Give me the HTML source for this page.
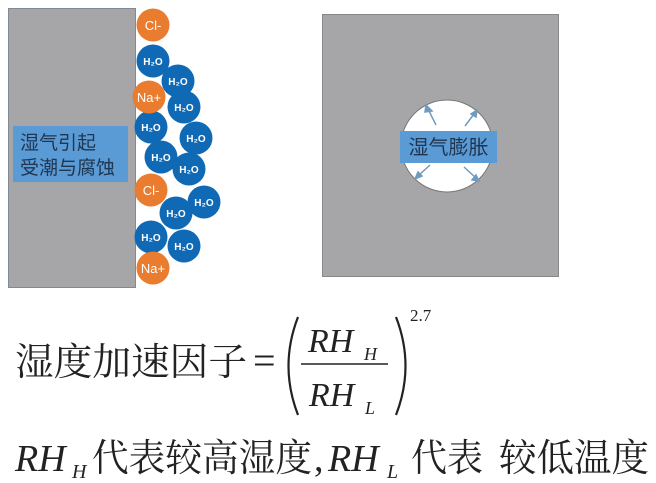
<!DOCTYPE html>
<html><head><meta charset="utf-8"><style>
html,body{margin:0;padding:0;background:#fff;}
svg{display:block;}
</style></head><body>
<svg width="656" height="483" viewBox="0 0 656 483" xmlns="http://www.w3.org/2000/svg">
<rect x="8.5" y="8.5" width="127" height="279" fill="#a6a6a8" stroke="#7f8a96" stroke-width="1"/>
<rect x="13" y="126" width="115" height="56" fill="#5b9bd5"/>
<g font-family="'Liberation Sans','Noto Sans CJK SC',sans-serif" font-size="19" fill="#1f3550">
<text x="20" y="149">湿气引起</text>
<text x="20" y="174">受潮与腐蚀</text>
</g>
<g font-family="'Liberation Sans',sans-serif" font-weight="bold" fill="#fff" text-anchor="middle">
<g font-size="10">
<circle cx="153" cy="61" r="16.5" fill="#0f69b4"/><text x="153" y="65">H₂O</text>
<circle cx="178" cy="81" r="16.5" fill="#0f69b4"/><text x="178" y="85">H₂O</text>
<circle cx="184" cy="107" r="16.5" fill="#0f69b4"/><text x="184" y="111">H₂O</text>
<circle cx="151" cy="127" r="16.5" fill="#0f69b4"/><text x="151" y="131">H₂O</text>
<circle cx="196" cy="138" r="16.5" fill="#0f69b4"/><text x="196" y="142">H₂O</text>
<circle cx="161" cy="157" r="16.5" fill="#0f69b4"/><text x="161" y="161">H₂O</text>
<circle cx="189" cy="169" r="16.5" fill="#0f69b4"/><text x="189" y="173">H₂O</text>
<circle cx="204" cy="202" r="16.5" fill="#0f69b4"/><text x="204" y="206">H₂O</text>
<circle cx="176" cy="213" r="16.5" fill="#0f69b4"/><text x="176" y="217">H₂O</text>
<circle cx="151" cy="237" r="16.5" fill="#0f69b4"/><text x="151" y="241">H₂O</text>
<circle cx="184" cy="246" r="16.5" fill="#0f69b4"/><text x="184" y="250">H₂O</text>
</g>
<g font-size="13" font-weight="normal">
<circle cx="153" cy="25" r="16.5" fill="#ea7c2f"/><text x="153" y="30">Cl-</text>
<circle cx="149" cy="97" r="16.5" fill="#ea7c2f"/><text x="149" y="102">Na+</text>
<circle cx="151" cy="190" r="16.5" fill="#ea7c2f"/><text x="151" y="195">Cl-</text>
<circle cx="153" cy="268" r="16.5" fill="#ea7c2f"/><text x="153" y="273">Na+</text>
</g>
</g>
<rect x="322.5" y="14.5" width="236" height="262" fill="#a6a6a8" stroke="#888" stroke-width="1"/>
<circle cx="447" cy="146" r="46" fill="#fff" stroke="#777" stroke-width="1"/>
<g stroke="#6f9bbf" stroke-width="1.5" fill="#6f9bbf">
<line x1="436" y1="125" x2="428" y2="109"/><polygon points="426,105 432,111 425,112"/>
<line x1="465" y1="126" x2="474" y2="114"/><polygon points="477,110 476,117 471,114"/>
<line x1="430" y1="165" x2="418" y2="176"/><polygon points="415,179 418,172 422,176"/>
<line x1="464" y1="167" x2="476" y2="178"/><polygon points="479,181 472,180 476,175"/>
</g>
<rect x="400" y="131" width="97" height="32" fill="#5b9bd5"/>
<text x="448.5" y="154" text-anchor="middle" font-family="'Liberation Sans','Noto Sans CJK SC',sans-serif" font-size="20" fill="#1f3550">湿气膨胀</text>
<g font-family="'Liberation Serif','Noto Serif CJK SC',serif" fill="#222">
<text x="15" y="375" font-size="38" textLength="232" lengthAdjust="spacingAndGlyphs">湿度加速因子</text>
<text x="253" y="374" font-size="40">=</text>
<path d="M298,317 Q279,366 298,415" fill="none" stroke="#222" stroke-width="2.2"/>
<path d="M396,317 Q415,366 396,415" fill="none" stroke="#222" stroke-width="2.2"/>
<text x="308" y="352" font-size="34" font-style="italic">RH</text>
<text x="364" y="360" font-size="18" font-style="italic">H</text>
<line x1="301" y1="364" x2="388" y2="364" stroke="#222" stroke-width="1.5"/>
<text x="309" y="406" font-size="34" font-style="italic">RH</text>
<text x="365" y="414" font-size="18" font-style="italic">L</text>
<text x="410" y="321" font-size="17">2.7</text>
<text x="15" y="471" font-size="38" font-style="italic">RH</text>
<text x="72" y="478" font-size="20" font-style="italic">H</text>
<text x="92" y="471" font-size="38" textLength="220" lengthAdjust="spacingAndGlyphs">代表较高湿度</text>
<text x="314" y="471" font-size="38">,</text>
<text x="328" y="471" font-size="38" font-style="italic">RH</text>
<text x="387" y="478" font-size="20" font-style="italic">L</text>
<text x="411" y="471" font-size="38" textLength="72" lengthAdjust="spacingAndGlyphs">代表</text>
<text x="499" y="471" font-size="38" textLength="150" lengthAdjust="spacingAndGlyphs">较低温度</text>
</g>
</svg>
</body></html>
